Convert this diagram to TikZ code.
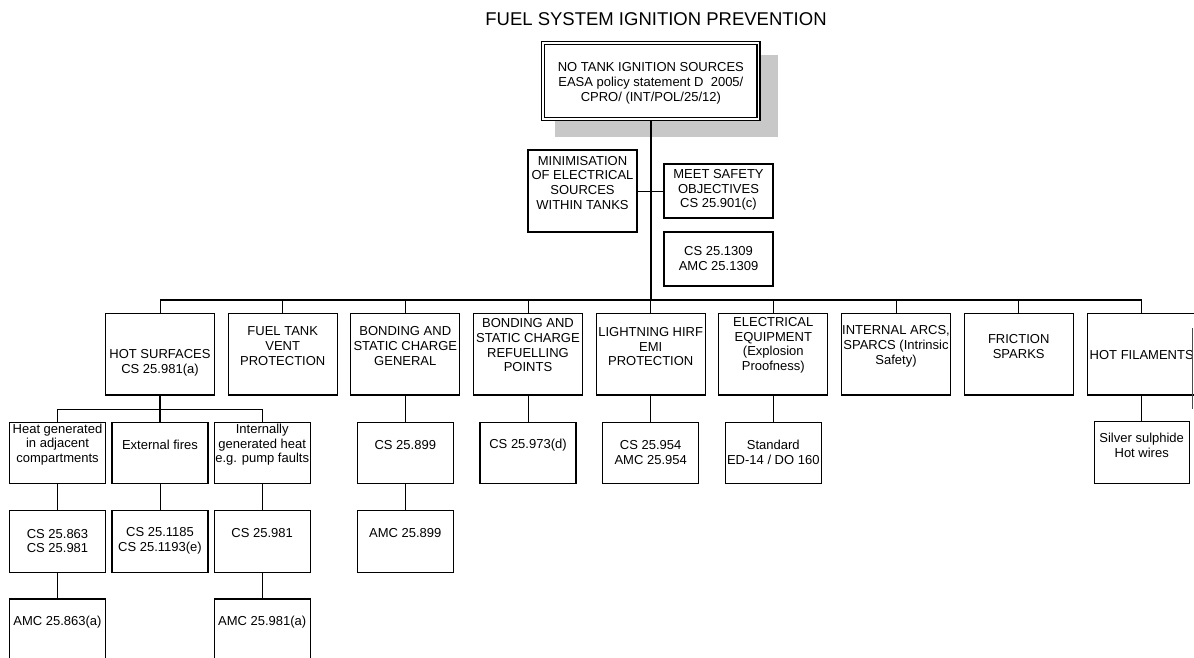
\documentclass[tikz,border=0pt]{standalone}
\usepackage{fontspec}
\setmainfont{Liberation Sans}
\definecolor{shadowgray}{RGB}{200,200,200}
\begin{document}
\begin{tikzpicture}[x=1pt,y=-1pt,
  bx/.style={draw, line width=1.1pt, inner sep=0pt, outer sep=0pt, anchor=north},
  txt/.style={align=center, inner sep=0pt, font=\fontsize{13}{14.8}\selectfont},
  conn/.style={line width=1pt},
  trunk/.style={line width=2pt},
  busline/.style={line width=1.6pt}]
\useasboundingbox (0,0) rectangle (1194,657);
\clip (0,0) rectangle (1194,657);
% title
\node[inner sep=0pt, font=\fontsize{18.5}{22}\selectfont] (title) at (656,19) {FUEL SYSTEM IGNITION PREVENTION};
% top box with shadow
\fill[shadowgray] (555,55) rectangle (778,137);
\node[bx, fill=white, minimum width=218.3, minimum height=79] (top) at (650.85,41.7) {};
\draw[line width=1.1pt] ([shift={(3pt,-3pt)}]top.north west) rectangle ([shift={(-3pt,3pt)}]top.south east);
\node[txt] (top-t) at (650.85,83.3) {NO TANK IGNITION SOURCES\\EASA policy statement D\ \ 2005/\\CPRO/ (INT/POL/25/12)};
% side boxes
\node[bx, minimum width=109, minimum height=82] (min) at (582.5,150) {};
\node[txt] (min-t) at (582.5,182.8) {MINIMISATION\\OF ELECTRICAL\\SOURCES\\WITHIN TANKS};
\node[bx, minimum width=109, minimum height=54] (meet) at (718.5,164) {};
\node[txt] (meet-t) at (718.5,190) {MEET SAFETY\\OBJECTIVES\\CS 25.901(c)};
\node[bx, minimum width=109, minimum height=54] (c1309) at (718.5,232) {};
\node[txt] (c1309-t) at (718.5,258.7) {CS 25.1309\\AMC 25.1309};
% level 2
\foreach \n/\x in {hs/160,ft/282.7,bg/405.3,br/528,lh/650.7,ee/773.3,ia/896,fs/1018.7,hf/1141.7}
  \node[bx, minimum width=109, minimum height=81.7] (\n) at (\x,313.3) {};
\node[txt] (hs-t) at (160,362.8) {HOT SURFACES\\CS 25.981(a)};
\node[txt] (ft-t) at (282.7,346.1) {FUEL TANK\\VENT\\PROTECTION};
\node[txt] (bg-t) at (405.3,346.1) {BONDING AND\\STATIC CHARGE\\GENERAL};
\node[txt] (br-t) at (528,345.2) {BONDING AND\\STATIC CHARGE\\REFUELLING\\POINTS};
\node[txt] (lh-t) at (650.7,346.7) {LIGHTNING HIRF\\EMI\\PROTECTION};
\node[txt] (ee-t) at (773.3,345.2) {ELECTRICAL\\EQUIPMENT\\(Explosion\\Proofness)};
\node[txt] (ia-t) at (896,346.1) {INTERNAL ARCS,\\SPARCS (Intrinsic\\Safety)};
\node[txt] (fs-t) at (1018.7,346.3) {FRICTION\\SPARKS};
\node[txt, anchor=west] (hf-t) at (1089.5,355) {HOT FILAMENTS};
\draw[line width=0.8pt, black!70] (1192.7,328) coordinate (hfa) -- (1192.7,409) coordinate (hfb);
% level 3 rows
\foreach \n/\x in {ha1/57.5,hb1/160,hc1/262.2,bg1/405.3,br1/528,lh1/650.7,ee1/773.3}
  \node[bx, minimum width=96, minimum height=61.4] (\n) at (\x,422.3) {};
\node[bx, minimum width=95, minimum height=61.4] (hf1) at (1141.7,421.7) {};
\foreach \n/\x in {ha2/57.5,hb2/160,hc2/262.2,bg2/405.3}
  \node[bx, minimum width=96, minimum height=61.4] (\n) at (\x,510.7) {};
\foreach \n/\x in {ha3/57.5,hc3/262.2}
  \node[bx, minimum width=96, minimum height=61.4] (\n) at (\x,599) {};
\node[txt] (ha1-t) at (57.5,444.6) {Heat generated\\in adjacent\\compartments};
\node[txt] (hb1-t) at (160,444.7) {External fires};
\node[txt] (hc1-t) at (262.2,444.7) {Internally\\generated heat\\e.g. pump faults};
\node[txt] (bg1-t) at (405.3,444.7) {CS 25.899};
\node[txt] (br1-t) at (528,444.7) {CS 25.973(d)};
\node[txt] (lh1-t) at (650.7,452.3) {CS 25.954\\AMC 25.954};
\node[txt] (ee1-t) at (773.3,452) {Standard\\ED-14 / DO 160};
\node[txt] (hf1-t) at (1141.7,445.5) {Silver sulphide\\Hot wires};
\node[txt] (ha2-t) at (57.5,541) {CS 25.863\\CS 25.981};
\node[txt] (hb2-t) at (160,541) {CS 25.1185\\CS 25.1193(e)};
\node[txt] (hc2-t) at (262.2,533.3) {CS 25.981};
\node[txt] (bg2-t) at (405.3,533.3) {AMC 25.899};
\node[txt] (ha3-t) at (57.5,621.7) {AMC 25.863(a)};
\node[txt] (hc3-t) at (262.2,621.7) {AMC 25.981(a)};
% connectors
\coordinate (busL) at (160,300);
\coordinate (busR) at (1141.7,300);
\draw[trunk] (top.south) -- (top.south |- busL);
\draw[busline] (busL) -- (busR);
\foreach \n in {hs,ft,bg,br,lh,ee,ia,fs,hf}
  \draw[conn] (\n.north) -- (\n.north |- busL);
\draw[conn] (min.east) -- (meet.west);
\path (hs.south) ++(0,14.3) coordinate (sb);
\draw[conn] (ha1.north) |- (sb) -| (hc1.north);
\draw[trunk] (hs.south) -- (hb1.north);
\draw[conn] (ha1.south) -- (ha2.north);
\draw[conn] (ha2.south) -- (ha3.north);
\draw[conn] (hb1.south) -- (hb2.north);
\draw[conn] (hc1.south) -- (hc2.north);
\draw[conn] (hc2.south) -- (hc3.north);
\draw[conn] (bg.south) -- (bg1.north);
\draw[conn] (bg1.south) -- (bg2.north);
\draw[conn] (br.south) -- (br1.north);
\draw[conn] (lh.south) -- (lh1.north);
\draw[conn] (ee.south) -- (ee1.north);
\draw[conn] (hf.south) -- (hf1.north);
\end{tikzpicture}
\end{document}
